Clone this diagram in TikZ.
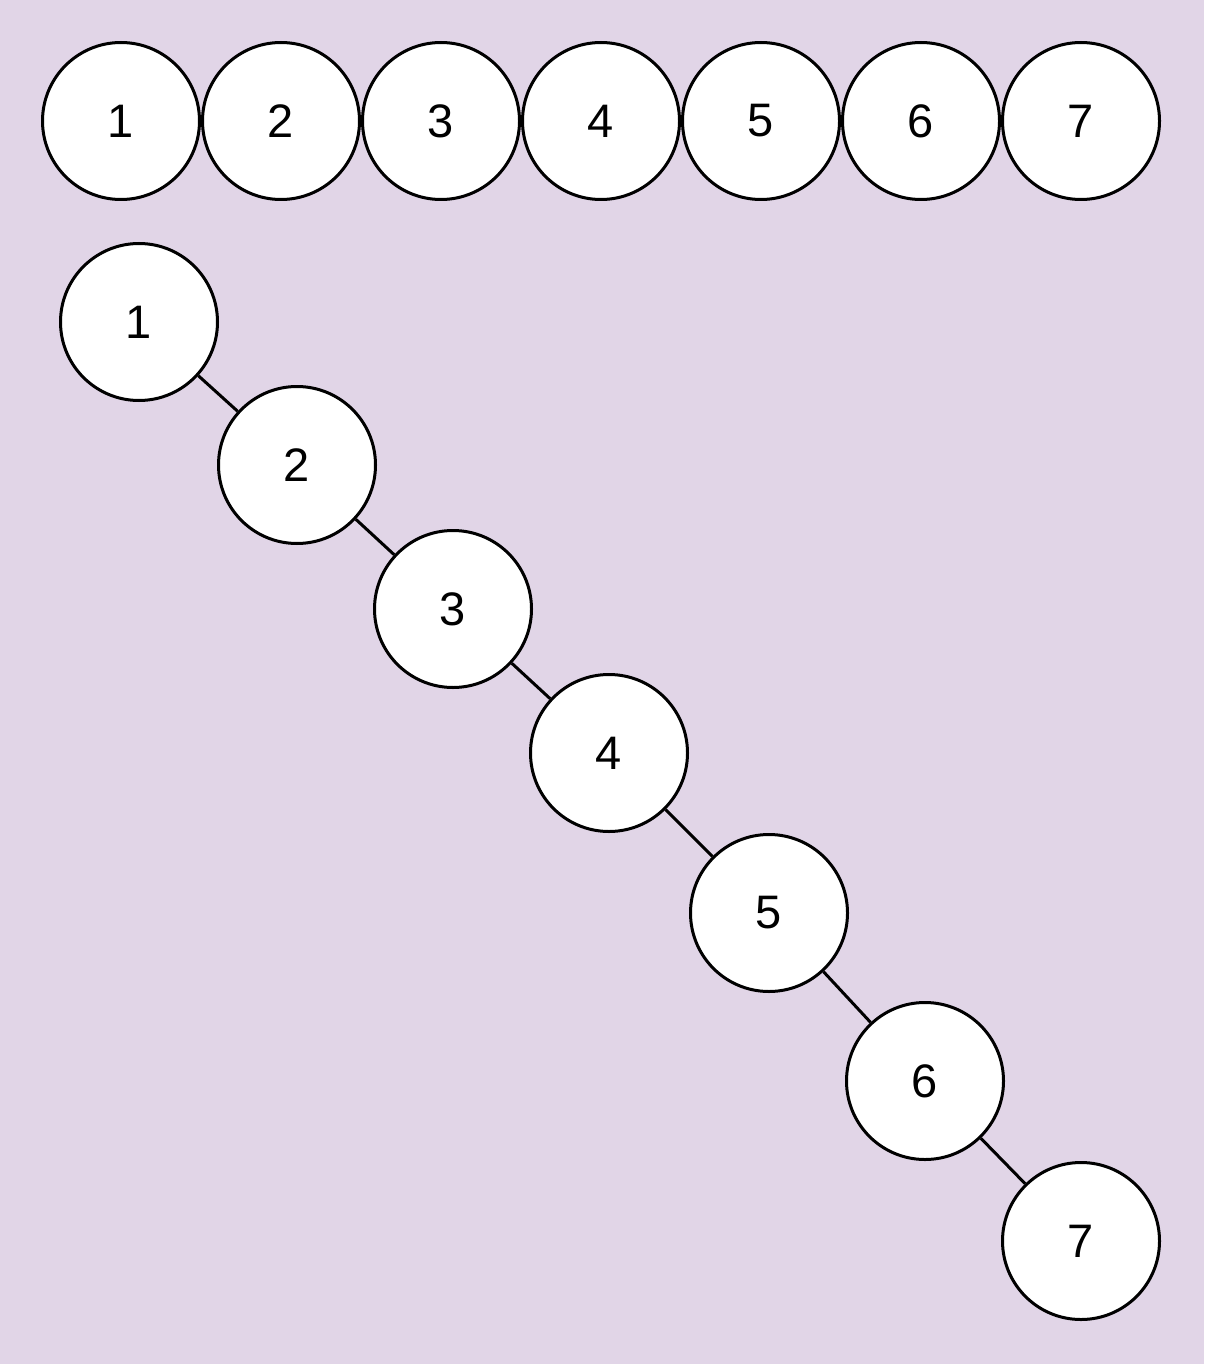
\documentclass[tikz,border=0pt]{standalone}
\usepackage{fontspec}
\setmainfont{Liberation Sans}
\definecolor{bgpurple}{HTML}{E1D5E7}
\begin{document}
\begin{tikzpicture}[x=1pt,y=-1pt,
  ball/.style={circle,draw=black,fill=white,line width=3pt,minimum size=157pt,inner sep=0pt,font=\fontsize{47}{47}\selectfont},
  link/.style={draw=black,line width=3pt}]
\fill[bgpurple] (0,0) rectangle (1204,1364);
\useasboundingbox (0,0) rectangle (1204,1364);
\foreach \i/\x in {1/121,2/281,3/441,4/601,5/761,6/921,7/1081}
  \node[ball] (t\i) at (\x,121) {\i};
\node[ball] (d1) at (139,322) {1};
\node[ball] (d2) at (297,465) {2};
\node[ball] (d3) at (453,609) {3};
\node[ball] (d4) at (609,753) {4};
\node[ball] (d5) at (769,913) {5};
\node[ball] (d6) at (925,1081) {6};
\node[ball] (d7) at (1081,1241) {7};
\draw[link] (d1) -- (d2);
\draw[link] (d2) -- (d3);
\draw[link] (d3) -- (d4);
\draw[link] (d4) -- (d5);
\draw[link] (d5) -- (d6);
\draw[link] (d6) -- (d7);
\end{tikzpicture}
\end{document}
